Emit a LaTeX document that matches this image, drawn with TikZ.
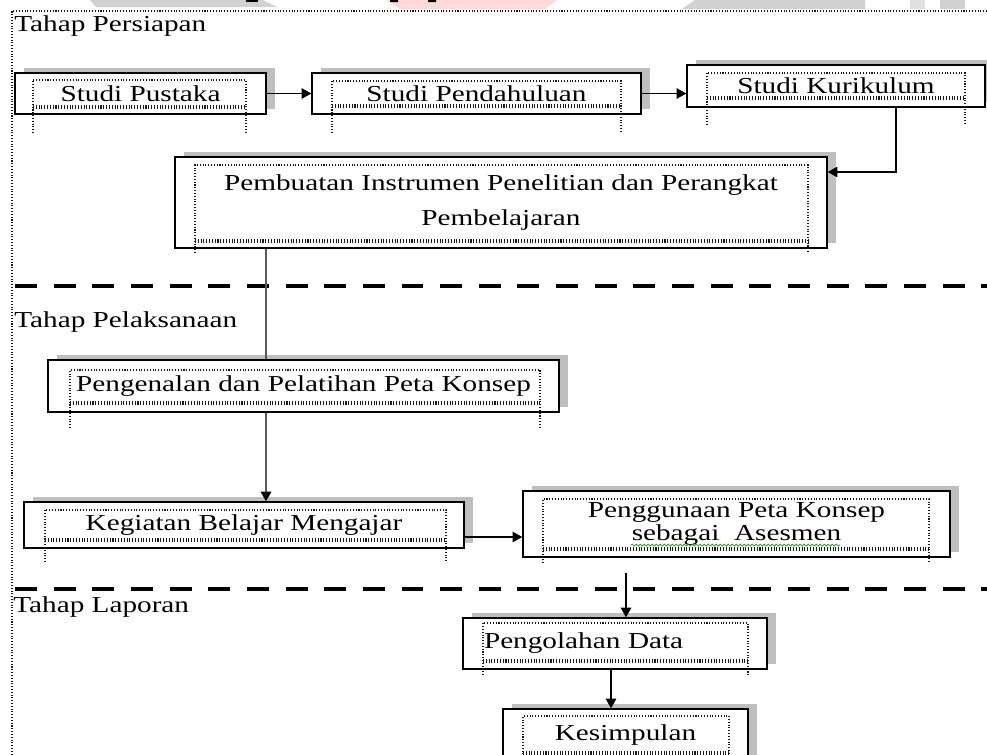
\documentclass[tikz,border=0pt]{standalone}
\usepackage{fontspec}
\setmainfont{Liberation Serif}[FakeStretch=1.28]
\usetikzlibrary{arrows.meta,shadows,decorations.pathmorphing}
\newdimen\pxu \pxu=0.02cm
\tikzset{
  kotak/.style={draw,line width=0.8pt,fill=white,inner sep=0pt,
    drop shadow={shadow xshift=9\pxu,shadow yshift=5\pxu,fill=black!25,opacity=1}},
  panah/.style={-{Triangle[length=5.5pt,width=6pt]},line width=0.6pt},
  batas/.style={line width=2.2pt,dash pattern=on 12.5pt off 9.5pt},
  bingkai/.style={densely dotted,line width=0.6pt,black!90},
}
\newcommand\bingkaiteks[5]{%
  \draw[bingkai] (#1,#5) -- (#1,#2) -- (#3,#2) -- (#3,#5);
  \draw[bingkai] (#1,#4) -- (#3,#4) (#1,#4+2) -- (#3,#4+2);}

\begin{document}
\begin{tikzpicture}[x=0.02cm,y=-0.02cm,font=\fontsize{13}{15}\selectfont]
 \useasboundingbox (0,0) rectangle (987,754);
 \clip (0,0) rectangle (987,754);
 \fill[black!18] (90,0) -- (263,0) -- (277,7) -- (96,7) -- cycle;
 \fill[red!15] (387,0) -- (557,0) -- (545,9) -- (400,9) -- cycle;
 \fill[black!18] (695,0) -- (865,0) -- (865,9) -- (682,9) -- cycle;
 \fill[black!12] (910,0) rectangle (925,9);
 \fill[black!18] (940,0) rectangle (965,9);
 \fill (246,0) rectangle (258,2);
 \fill (390,0) rectangle (398,2) (428,0) rectangle (436,2);
 \draw[bingkai] (987,11) -- (12,11) -- (12,754);

 \node[anchor=base west,inner sep=0pt] (persiapan) at (14,31) {Tahap Persiapan};
 \node[anchor=base west,inner sep=0pt] (pelaksanaan) at (14,327) {Tahap Pelaksanaan};
 \node[anchor=base west,inner sep=0pt] (laporan) at (13,612) {Tahap Laporan};
 \draw[batas] (15,286) -- (987,286);
 \draw[batas] (15,589) -- (987,589);

 \node[kotak,minimum width=251\pxu,minimum height=41\pxu] (pustaka) at (140.5,93.5) {Studi Pustaka};
 \node[kotak,minimum width=329\pxu,minimum height=41\pxu] (pendahuluan) at (476.5,93.5) {Studi Pendahuluan};
 \node[kotak,minimum width=298\pxu,minimum height=42\pxu] (kurikulum) at (836,86) {Studi Kurikulum};
 \node[kotak,minimum width=652\pxu,minimum height=91\pxu,align=center,
   font=\fontsize{13}{19.8}\selectfont] (instrumen) at (501,202.5)
   {Pembuatan Instrumen Penelitian dan Perangkat\\Pembelajaran};
 \node[kotak,minimum width=511\pxu,minimum height=52\pxu] (pengenalan) at (303.5,386) {Pengenalan dan Pelatihan Peta Konsep};
 \node[kotak,minimum width=440\pxu,minimum height=46\pxu] (kbm) at (244,525) {Kegiatan Belajar Mengajar};
 \node[kotak,minimum width=427\pxu,minimum height=66\pxu,align=center,
   font=\fontsize{13}{13}\selectfont] (penggunaan) at (736.5,524)
   {Penggunaan Peta Konsep\\sebagai\ \ Asesmen};
 \node[kotak,inner xsep=21\pxu,text width=262\pxu,minimum height=51\pxu,align=left] (pengolahan) at (615,643.5) {Pengolahan Data};
 \node[kotak,minimum width=245\pxu,minimum height=52\pxu] (kesimpulan) at (625.5,735) {Kesimpulan};

 \draw[decorate,decoration={snake,segment length=4\pxu,amplitude=1\pxu},green!60!black,line width=0.4pt] (631,545) -- (840,545);

 \bingkaiteks{33}{80}{246}{106}{133}
 \bingkaiteks{332}{81}{621}{105}{133}
 \bingkaiteks{707}{73}{965}{97}{125}
 \bingkaiteks{195}{165}{808}{240}{253}
 \bingkaiteks{70}{370}{540}{402}{428}
 \bingkaiteks{45}{510}{446}{539}{562}
 \bingkaiteks{543}{499}{929}{548}{563}
 \bingkaiteks{483}{623}{748}{660}{675}
 \bingkaiteks{523}{716}{729}{752}{760}

 \coordinate (belok) at (896,172);
 \coordinate (jalur) at (266,0);
 \coordinate (kp) at (0,537);
 \coordinate (turun) at (626,573);
 \coordinate (jalurb) at (611,0);
 \draw[panah] (pustaka) -- (pendahuluan);
 \draw[panah] (pendahuluan.east) -- (pendahuluan.east -| kurikulum.west);
 \draw[panah] (belok |- kurikulum.south) |- (instrumen.east |- belok);
 \draw[line width=1.1pt,black!65] (instrumen.south -| jalur) -- (pengenalan.north -| jalur);
 \draw[-{Triangle[length=5.5pt,width=6pt,color=black]},line width=1.1pt,black!65] (pengenalan.south -| jalur) -- (kbm.north -| jalur);
 \draw[panah] (kbm.east |- kp) -- (penggunaan.west |- kp);
 \draw[panah] (turun) -- (turun |- pengolahan.north);
 \draw[panah] (pengolahan.south -| jalurb) -- (kesimpulan.north -| jalurb);
\end{tikzpicture}
\end{document}
